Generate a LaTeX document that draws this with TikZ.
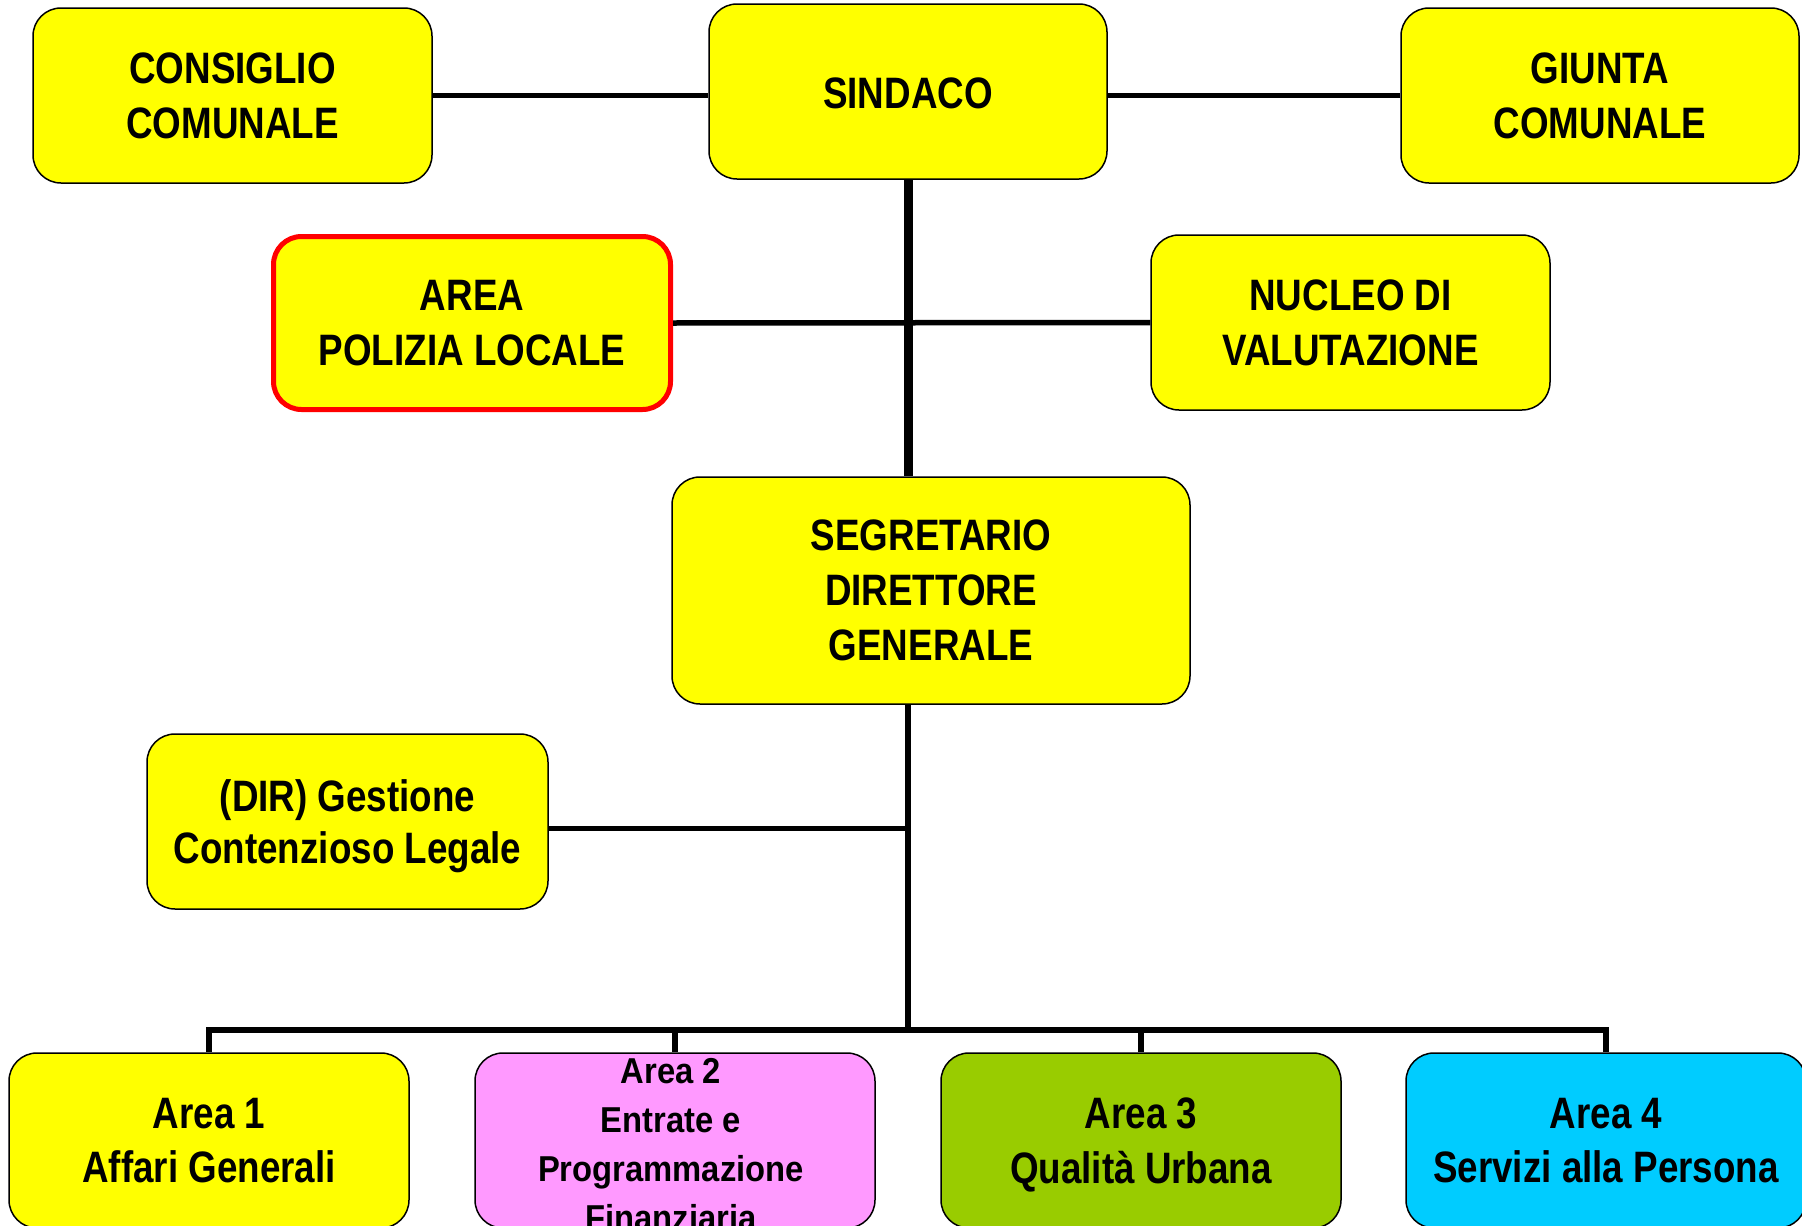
\documentclass[tikz,border=0pt]{standalone}
\usepackage{fontspec}
\setmainfont{Liberation Sans}[FakeStretch=0.836]
\newfontfamily\areatwofont{Liberation Sans}[FakeStretch=0.91]
\definecolor{boxyellow}{HTML}{FFFF00}
\definecolor{boxpink}{HTML}{FF99FF}
\definecolor{boxgreen}{HTML}{99CC00}
\definecolor{boxcyan}{HTML}{00CCFF}
\begin{document}
\begin{tikzpicture}[x=1pt,y=-1pt,
  box/.style={draw=black, line width=1.5pt, rounded corners=28pt, fill=boxyellow,
    minimum width=399pt, minimum height=175pt, inner sep=0pt, align=center,
    font=\fontsize{44}{54.5}\selectfont\bfseries,
    execute at begin node={\rule{0pt}{34.5pt}}},
  areabox/.style={box, minimum width=400pt, minimum height=175pt},
  conn/.style={draw=black, line width=5.5pt},
  thickconn/.style={draw=black, line width=9pt}
]
\useasboundingbox (0,0) rectangle (1802,1226);
\node[box] (cc) at (232.5,95.5) {CONSIGLIO\\\smash{COMUNALE}};
\node[box, minimum width=398pt] (sind) at (908,91.5) {\smash{SINDACO}};
\node[box, minimum width=398pt] (giunta) at (1600,95.5) {GIUNTA\\\smash{COMUNALE}};
\node[box, draw=red, line width=5pt, minimum width=397pt, minimum height=173pt] (pol) at (472,323) {AREA\\\smash{POLIZIA LOCALE}};
\node[box] (nuc) at (1350.5,322.5) {NUCLEO DI\\\smash{VALUTAZIONE}};
\node[box, minimum width=518pt, minimum height=227pt, font=\fontsize{44}{55}\selectfont\bfseries] (seg) at (931,590.5) {SEGRETARIO\\DIRETTORE\\\smash{GENERALE}};
\node[box, minimum width=401pt, font=\fontsize{44}{52}\selectfont\bfseries, execute at begin node={\rule{0pt}{33pt}}] (dir) at (347.5,821.5) {(DIR) Gestione\\\smash{Contenzioso Legale}};
\node[areabox] (a1) at (209,1140.5) {Area 1\\\smash{Affari Generali}};
\node[areabox, fill=boxpink] (a2) at (675,1140.5) {};
\node[align=center, inner sep=0pt, anchor=north, font=\areatwofont\fontsize{36}{49}\selectfont\bfseries] (a2t) at (671,1058) {Area 2\\Entrate e\\Programmazione\\Finanziaria};
\node[areabox, fill=boxgreen] (a3) at (1141,1140.5) {Area 3\\\smash{Qualità Urbana}};
\node[areabox, fill=boxcyan] (a4) at (1606,1140.5) {Area 4\\\smash{Servizi alla Persona}};
\coordinate (bus) at (908,1030);
% connectors
\draw[conn] (cc.east) -- (cc.east -| sind.west);
\draw[conn] (giunta.west) -- (giunta.west -| sind.east);
\draw[thickconn] (sind.south) -- (seg.north -| sind.south);
\draw[conn] (pol.east) -- (nuc.west);
\draw[conn] (seg.south -| sind.south) -- (bus);
\draw[conn] ([yshift=-7pt]dir.east) -- ([yshift=-7pt]dir.east -| bus);
\draw[conn] (a1.north) -- (a1.north |- bus) -- (a4.north |- bus) -- (a4.north);
\draw[conn] (a2.north) -- (a2.north |- bus);
\draw[conn] (a3.north) -- (a3.north |- bus);
\end{tikzpicture}
\end{document}
